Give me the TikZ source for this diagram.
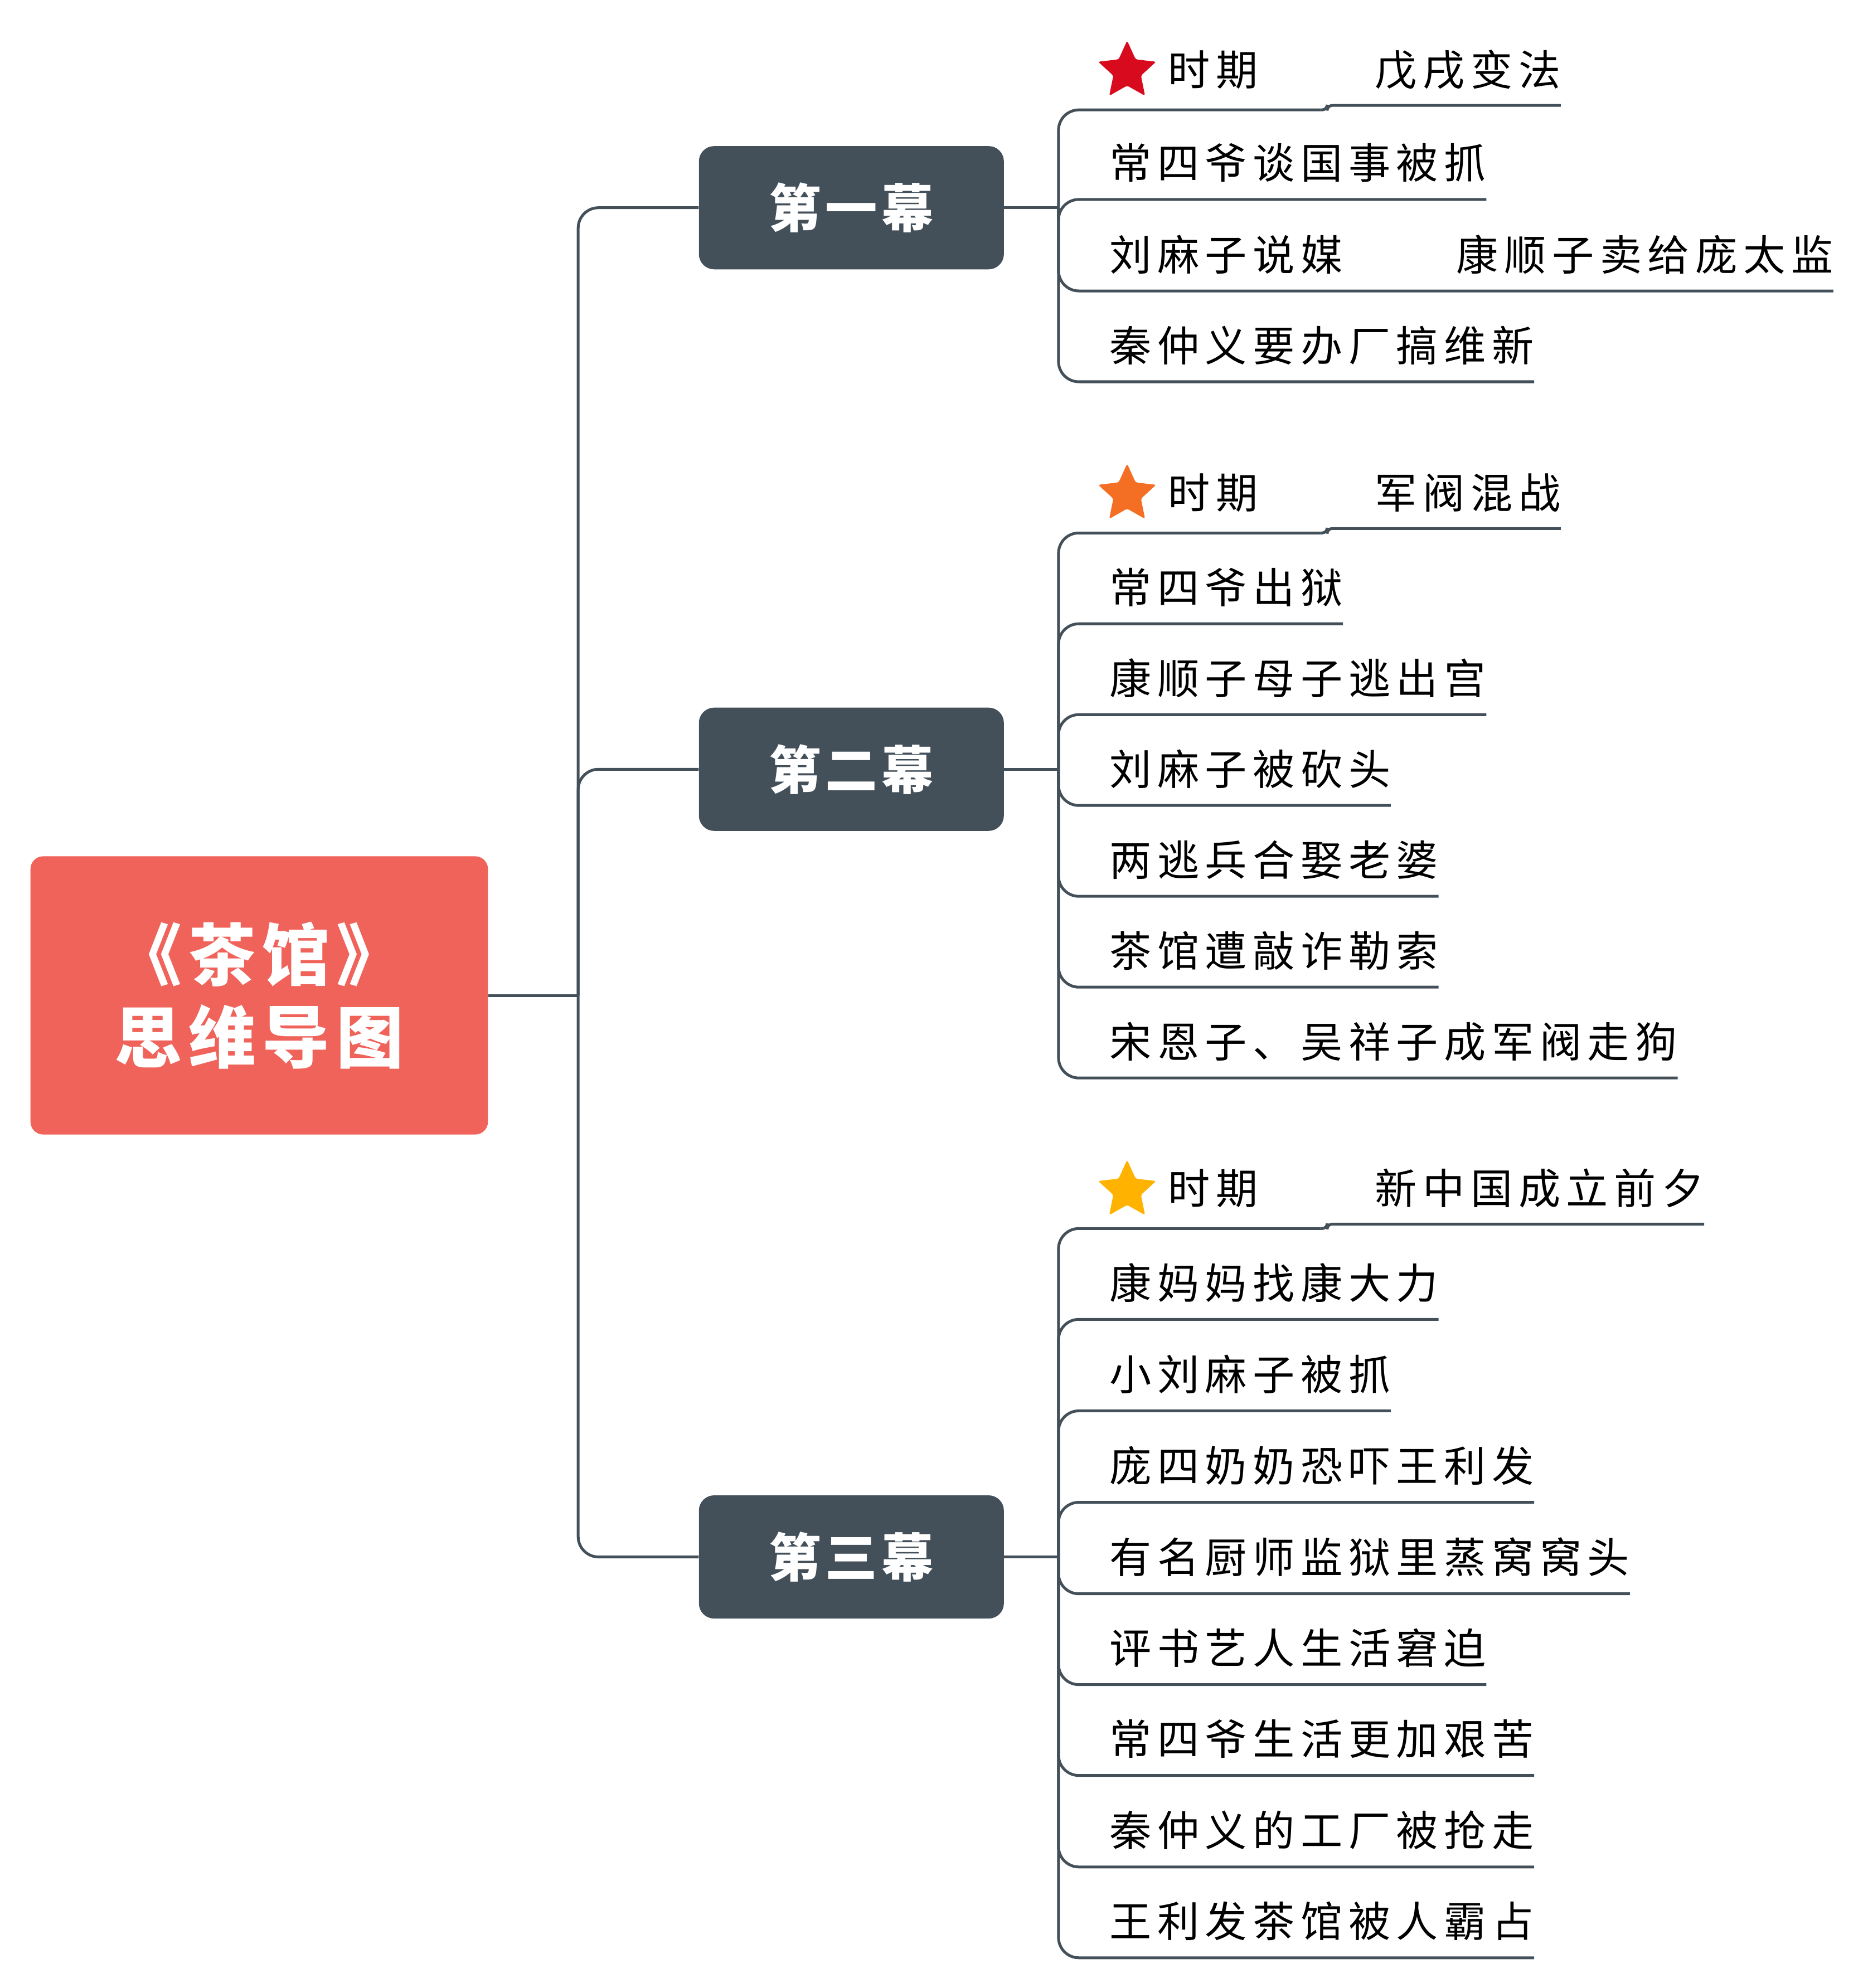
\documentclass[tikz,border=0pt]{standalone}
\usepackage{fontspec}
\setmainfont{Noto Sans CJK SC}
\usetikzlibrary{positioning, shapes.geometric}
\definecolor{rootred}{HTML}{F0635A}
\definecolor{slate}{HTML}{434F59}
\definecolor{starred}{HTML}{D80B1E}
\definecolor{starorange}{HTML}{F46E24}
\definecolor{staramber}{HTML}{FFB300}

\begin{document}
\begin{tikzpicture}[x=1pt, y=-1pt,
  root/.style   = {rectangle, fill=rootred, rounded corners=10pt, minimum width=360pt, minimum height=219pt, inner sep=0pt, align=center, text=white,
                   font=\fontsize{53}{65}\selectfont\bfseries\addfontfeatures{LetterSpace=10}},
  act/.style    = {rectangle, fill=slate, rounded corners=12pt, minimum width=240pt, minimum height=97pt, inner sep=0pt, text=white,
                   font=\fontsize{41}{48}\selectfont\bfseries\addfontfeatures{LetterSpace=8}},
  leaf/.style   = {anchor=south west, inner sep=0pt, text height=28pt, text depth=16pt,
                   font=\fontsize{33}{40}\selectfont\addfontfeatures{LetterSpace=14}},
  period/.style = {leaf, text width=120pt, text depth=19pt},
  era/.style    = {leaf, text depth=15.5pt},
  starmark/.style = {star, star points=5, star point ratio=2.1, minimum size=48pt, inner sep=0pt, rounded corners=1.5pt},
  conn/.style   = {draw=slate, line width=2.2pt, rounded corners=16pt},
  ]
  \useasboundingbox (0,0) rectangle (1470,1564.8);

  % Root and acts
  \node[root] (root) at (204,783.5) {《茶馆》\\思维导图};
  \node[act]  (a1)   at (670,163.5) {第一幕};
  \node[act]  (a2)   at (670,605.5) {第二幕};
  \node[act]  (a3)   at (670,1225.5) {第三幕};

  \coordinate (t)  at (455,783.5);
  \coordinate (b1) at (833,163.5);
  \coordinate (b2) at (833,605.5);
  \coordinate (b3) at (833,1225.5);

  \draw[conn] (root.east) -- (t);
  \draw[conn] (t) |- (a1.west);
  \draw[conn] (t) |- (a2.west);
  \draw[conn] (t) |- (a3.west);
  \draw[conn] (a1.east) -- (b1);
  \draw[conn] (a2.east) -- (b2);
  \draw[conn] (a3.east) -- (b3);

  % Act one
  \node[starmark, fill=starred] (s1) at (887,56) {};
  \node[period] (p1)   at (919,86.5)  {时期};
  \node[era]    (e1)   at (1082,83)   {戊戌变法};
  \node[leaf]   (l11)  at (873,157)   {常四爷谈国事被抓};
  \node[leaf]   (l12)  at (873,229)   {刘麻子说媒};
  \node[leaf]   (l12b) at (1146,229)  {康顺子卖给庞太监};
  \node[leaf]   (l13)  at (873,300.5) {秦仲义要办厂搞维新};

  \draw[conn] (b1) |- (p1.south east);
  \draw[conn, rounded corners=4pt] (p1.south east) -- ++(5,0) |- (e1.south east);
  \draw[conn] (b1) |- (l11.south east);
  \draw[conn] (b1) |- (l12.south east) -- (l12b.south east);
  \draw[conn] (b1) |- (l13.south east);

  % Act two
  \node[starmark, fill=starorange] (s2) at (887,389) {};
  \node[period] (p2)  at (919,419.5)  {时期};
  \node[era]    (e2)  at (1082,416)   {军阀混战};
  \node[leaf]   (l21) at (873,491)    {常四爷出狱};
  \node[leaf]   (l22) at (873,562.5)  {康顺子母子逃出宫};
  \node[leaf]   (l23) at (873,634)    {刘麻子被砍头};
  \node[leaf]   (l24) at (873,705.5)  {两逃兵合娶老婆};
  \node[leaf]   (l25) at (873,777)    {茶馆遭敲诈勒索};
  \node[leaf]   (l26) at (873,848.5)  {宋恩子、吴祥子成军阀走狗};

  \draw[conn] (b2) |- (p2.south east);
  \draw[conn, rounded corners=4pt] (p2.south east) -- ++(5,0) |- (e2.south east);
  \draw[conn] (b2) |- (l21.south east);
  \draw[conn] (b2) |- (l22.south east);
  \draw[conn] (b2) |- (l23.south east);
  \draw[conn] (b2) |- (l24.south east);
  \draw[conn] (b2) |- (l25.south east);
  \draw[conn] (b2) |- (l26.south east);

  % Act three
  \node[starmark, fill=staramber] (s3) at (887,937) {};
  \node[period] (p3)  at (919,967)    {时期};
  \node[era]    (e3)  at (1082,963.5) {新中国成立前夕};
  \node[leaf]   (l31) at (873,1038.5) {康妈妈找康大力};
  \node[leaf]   (l32) at (873,1110.5) {小刘麻子被抓};
  \node[leaf]   (l33) at (873,1182.5) {庞四奶奶恐吓王利发};
  \node[leaf]   (l34) at (873,1254.5) {有名厨师监狱里蒸窝窝头};
  \node[leaf]   (l35) at (873,1326)   {评书艺人生活窘迫};
  \node[leaf]   (l36) at (873,1397.5) {常四爷生活更加艰苦};
  \node[leaf]   (l37) at (873,1469.5) {秦仲义的工厂被抢走};
  \node[leaf]   (l38) at (873,1541)   {王利发茶馆被人霸占};

  \draw[conn] (b3) |- (p3.south east);
  \draw[conn, rounded corners=4pt] (p3.south east) -- ++(5,0) |- (e3.south east);
  \draw[conn] (b3) |- (l31.south east);
  \draw[conn] (b3) |- (l32.south east);
  \draw[conn] (b3) |- (l33.south east);
  \draw[conn] (b3) |- (l34.south east);
  \draw[conn] (b3) |- (l35.south east);
  \draw[conn] (b3) |- (l36.south east);
  \draw[conn] (b3) |- (l37.south east);
  \draw[conn] (b3) |- (l38.south east);
\end{tikzpicture}
\end{document}
